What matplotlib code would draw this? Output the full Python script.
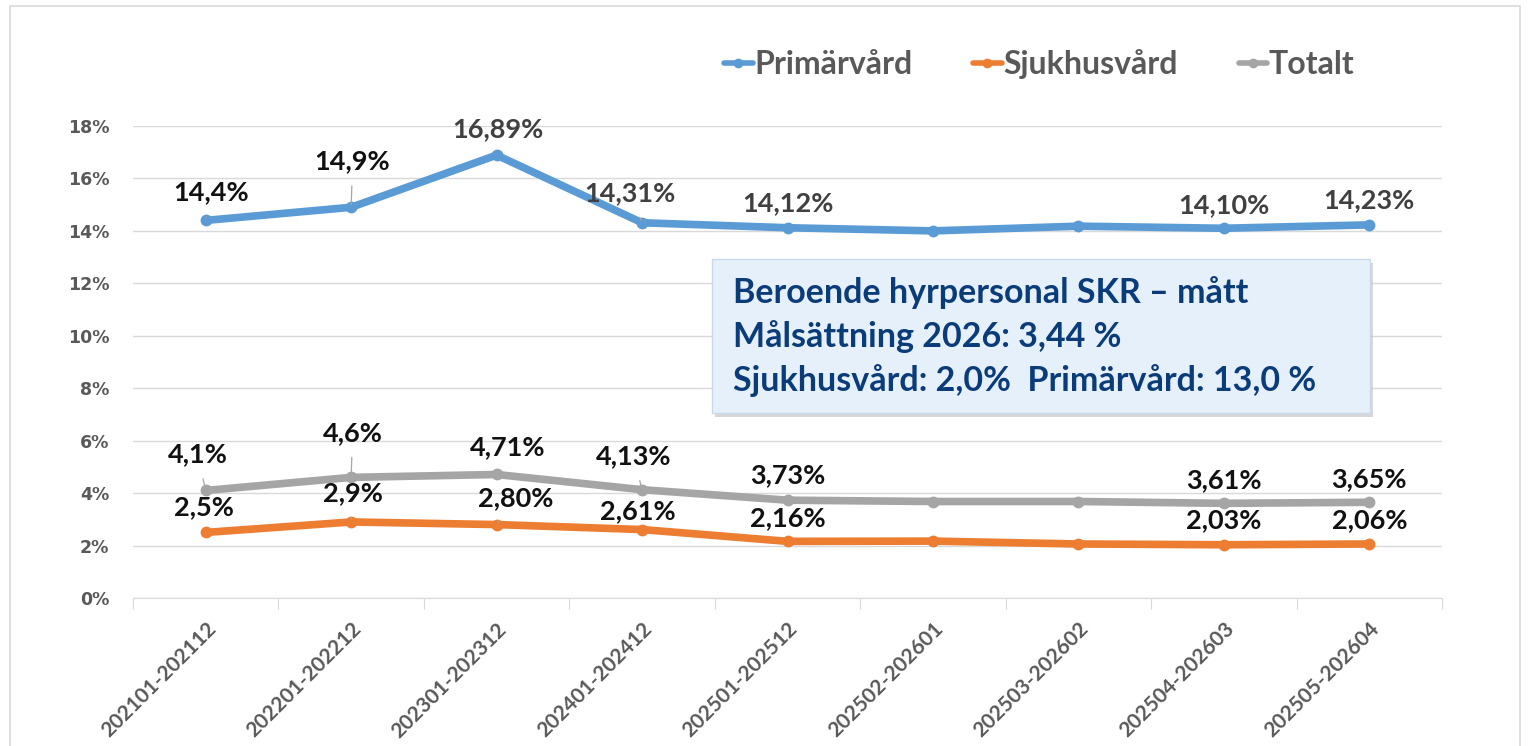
import matplotlib
matplotlib.use("Agg")
import matplotlib.pyplot as plt
from matplotlib.patches import Rectangle
from matplotlib.ticker import FuncFormatter, MultipleLocator
from matplotlib.transforms import ScaledTranslation

# data (percent)
periods = ["202101-202112", "202201-202212", "202301-202312", "202401-202412",
           "202501-202512", "202502-202601", "202503-202602", "202504-202603",
           "202505-202604"]
primarvard = [14.4, 14.9, 16.89, 14.31, 14.12, 14.0, 14.18, 14.10, 14.23]
sjukhusvard = [2.5, 2.9, 2.80, 2.61, 2.16, 2.17, 2.06, 2.03, 2.06]
totalt = [4.1, 4.6, 4.71, 4.13, 3.73, 3.68, 3.68, 3.61, 3.65]

primar_labels = ["14,4%", "14,9%", "16,89%", "14,31%", "14,12%", None, None, "14,10%", "14,23%"]
sjukhus_labels = ["2,5%", "2,9%", "2,80%", "2,61%", "2,16%", None, None, "2,03%", "2,06%"]
totalt_labels = ["4,1%", "4,6%", "4,71%", "4,13%", "3,73%", None, None, "3,61%", "3,65%"]

# label offsets in points (dx, dy) and whether a leader line is drawn
primar_off = [(4, 20, True), (1, 33, True), (1, 19, False), (-9, 21, True), (0, 18, False),
              None, None, (0, 17, False), (0, 18, False)]
totalt_off = [(-6, 26, True), (1, 32, True), (8, 20, True), (-6, 24, True), (0, 18, False),
              None, None, (0, 17, False), (0, 17, False)]
sjukhus_off = [(-1, 18, False), (1, 21, True), (14, 19, True), (-3, 13, False), (0, 17, False),
               None, None, (0, 18, False), (0, 17, False)]

BLUE = "#5B9BD5"
ORANGE = "#ED7D31"
GRAY = "#A5A5A5"
TXT = "#595959"
FONT = ["Lato", "DejaVu Sans"]

fig = plt.figure(figsize=(15.38, 7.46), dpi=100)
fig.patches.append(Rectangle((10 / 1538, -0.05), 1510 / 1538, 1.05 - 6 / 746,
                             transform=fig.transFigure, fill=False,
                             edgecolor="#d9d9d9", lw=1.2))
ax = fig.add_axes([133 / 1538, 1 - 598 / 746, 1309 / 1538, 472 / 746])

x = list(range(len(periods)))
series = [("Primärvård", primarvard, BLUE, primar_labels, primar_off),
          ("Sjukhusvård", sjukhusvard, ORANGE, sjukhus_labels, sjukhus_off),
          ("Totalt", totalt, GRAY, totalt_labels, totalt_off)]
for name, vals, col, labs, offs in series:
    ax.plot(x, vals, color=col, lw=5.5, marker="o", ms=7.5, label=name,
            solid_capstyle="round", zorder=3)
    for i, (v, lab) in enumerate(zip(vals, labs)):
        if lab is None:
            continue
        dx, dy, lead = offs[i]
        c = "#404040" if (name == "Primärvård" and i >= 2) else "#111111"
        ax.annotate(lab, (i, v), xytext=(dx, dy), textcoords="offset points",
                    ha="center", va="center", fontsize=19.5, fontweight="bold",
                    family=FONT, color=c, zorder=5,
                    arrowprops=dict(arrowstyle="-", color="#a6a6a6", lw=0.9,
                                    shrinkA=7, shrinkB=2) if lead else None)

ax.set_xlim(-0.5, len(periods) - 0.5)
ax.set_ylim(0, 18)
ax.yaxis.set_major_locator(MultipleLocator(2))
ax.yaxis.set_major_formatter(FuncFormatter(lambda v, p: f"{int(v)}%"))
ax.grid(axis="y", color="#d9d9d9", lw=1)
ax.set_axisbelow(True)
for s in ["top", "right", "left"]:
    ax.spines[s].set_visible(False)
ax.spines["bottom"].set_color("#d9d9d9")
ax.set_xticks([i - 0.5 for i in range(len(periods) + 1)], minor=False)
ax.set_xticklabels([])
ax.set_xticks(x, minor=True)
ax.set_xticklabels(periods, minor=True, rotation=45, ha="right",
                   rotation_mode="anchor", fontsize=15, fontweight="bold",
                   family=FONT, color=TXT)
shift = ScaledTranslation(-8 / 100, 0, fig.dpi_scale_trans)
for t in ax.get_xticklabels(minor=True):
    t.set_transform(t.get_transform() + shift)
ax.tick_params(axis="x", which="major", length=8, color="#d9d9d9", direction="out")
ax.tick_params(axis="x", which="minor", length=0, pad=15)
ax.tick_params(axis="y", length=0, pad=17, labelsize=12.5, labelcolor=TXT)
for t in ax.get_yticklabels():
    t.set_fontweight("bold")

leg = fig.legend(loc="center left", bbox_to_anchor=(695 / 1538, 1 - 64 / 746), ncol=3,
                 frameon=False, handlelength=0.9, handletextpad=0.05,
                 columnspacing=1.9, prop={"family": FONT, "weight": "bold", "size": 23})
for t in leg.get_texts():
    t.set_color(TXT)
for h in leg.legend_handles:
    h.set_linewidth(4)
    h.set_markersize(6)

# target box
bx0, by0, bw, bh = 712 / 1538, 1 - 413 / 746, 658 / 1538, 154 / 746
fig.patches.append(Rectangle((bx0 + 3 / 1538, by0 - 4 / 746), bw, bh, transform=fig.transFigure,
                             facecolor="#bfbfbf", edgecolor="none", alpha=0.6, zorder=6))
fig.patches.append(Rectangle((bx0, by0), bw, bh, transform=fig.transFigure,
                             facecolor="#e6f0fb", edgecolor="#c9d9ec", lw=1, zorder=7))
box_lines = ["Beroende hyrpersonal SKR \u2013 mått",
             "Målsättning 2026: 3,44 %",
             "Sjukhusvård: 2,0%  Primärvård: 13,0 %"]
for k, line in enumerate(box_lines):
    fig.text(733 / 1538, 1 - (293 + 44 * k) / 746, line, fontsize=24.5, fontweight="bold",
             family=FONT, color="#0b3c7a", va="center", ha="left", zorder=8)

fig.savefig("out.png", dpi=100)
